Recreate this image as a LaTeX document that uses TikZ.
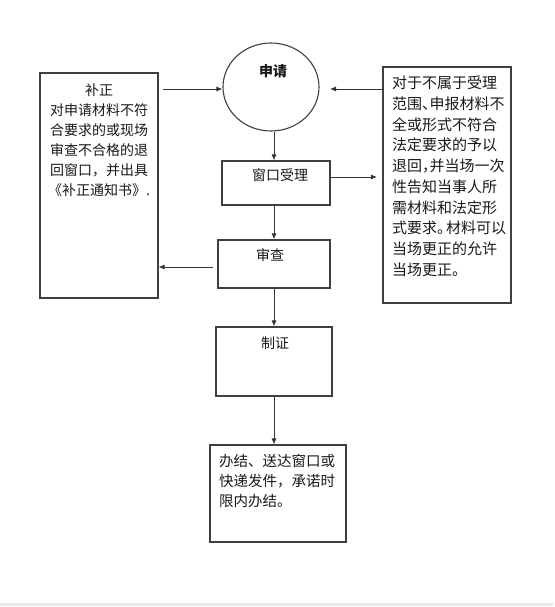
\documentclass[tikz,border=0pt]{standalone}
\usepackage{fontspec}
\setmainfont{Noto Sans CJK SC}
\usetikzlibrary{shapes.geometric,arrows.meta}
\begin{document}
\begin{tikzpicture}[x=1pt,y=-1pt,
  box/.style={draw=black!75,line width=1.1pt,rectangle,inner sep=0pt},
  txt/.style={inner sep=0pt,text=black!90},
  arr/.style={draw=black!80,line width=0.9pt,-{Latex[length=6pt,width=5pt]}},
  font=\fontsize{14}{20}\selectfont]
\useasboundingbox (0,0) rectangle (554,607);
\fill[white] (0,0) rectangle (554,607);
\fill[black!8] (0,603) rectangle (554,606);
% nodes
\node[box,ellipse,minimum width=96pt,minimum height=88pt] (sq) at (271,87) {};
\node[txt,font=\fontsize{14}{20}\selectfont\bfseries] (sqt) at (273,71) {申请};
\node[box,minimum width=118pt,minimum height=225pt] (bz) at (99,185.5) {};
\node[txt,anchor=north,align=center] (bzt) at (99,84) {补正\\对申请材料不符\\合要求的或现场\\审查不合格的退\\回窗口，并出具\\《补正通知书》.};
\node[box,minimum width=128pt,minimum height=236pt] (th) at (447,185) {};
\node[txt,anchor=north west,align=left,font=\fontsize{15}{20.7}\selectfont] (tht) at (392,76) {对于不属于受理\\范围\makebox[0.5em][l]{、}申报材料不\\全或形式不符合\\法定要求的予以\\退回\makebox[0.5em][l]{，}并当场一次\\性告知当事人所\\需材料和法定形\\式要求\makebox[0.6em][l]{。}材料可以\\当场更正的允许\\当场更正。};
\node[box,minimum width=108pt,minimum height=44pt] (ck) at (276,183) {};
\node[txt] (ckt) at (280,175) {窗口受理};
\node[box,minimum width=112pt,minimum height=48pt] (sc) at (274,264) {};
\node[txt] (sct) at (270,255) {审查};
\node[box,minimum width=116pt,minimum height=69pt] (zz) at (274,361.5) {};
\node[txt] (zzt) at (275,343) {制证};
\node[box,minimum width=136pt,minimum height=97pt] (bj) at (278,493.5) {};
\node[txt,anchor=north west,align=left,font=\fontsize{14.5}{20}\selectfont] (bjt) at (219,454) {办结、送达窗口或\\快递发件，承诺时\\限内办结。};
% coordinates
\coordinate (c1) at (163,89);
\coordinate (c2) at (330,89);
\coordinate (c3) at (377,177);
\coordinate (c4) at (213,267);
% connectors
\draw[arr] (c1) -- (sq.west |- c1);
\draw[arr] (th.west |- c2) -- (c2);
\draw[arr] (sq.south -| 274,0) -- (ck.north -| 274,0);
\draw[arr] (ck.east |- c3) -- (c3);
\draw[arr] (ck.south -| 274,0) -- (sc.north -| 274,0);
\draw[arr] (c4) -- (bz.east |- c4);
\draw[arr] (sc.south -| 274,0) -- (zz.north -| 274,0);
\draw[arr] (zz.south -| 274,0) -- (bj.north -| 274,0);
\end{tikzpicture}
\end{document}
